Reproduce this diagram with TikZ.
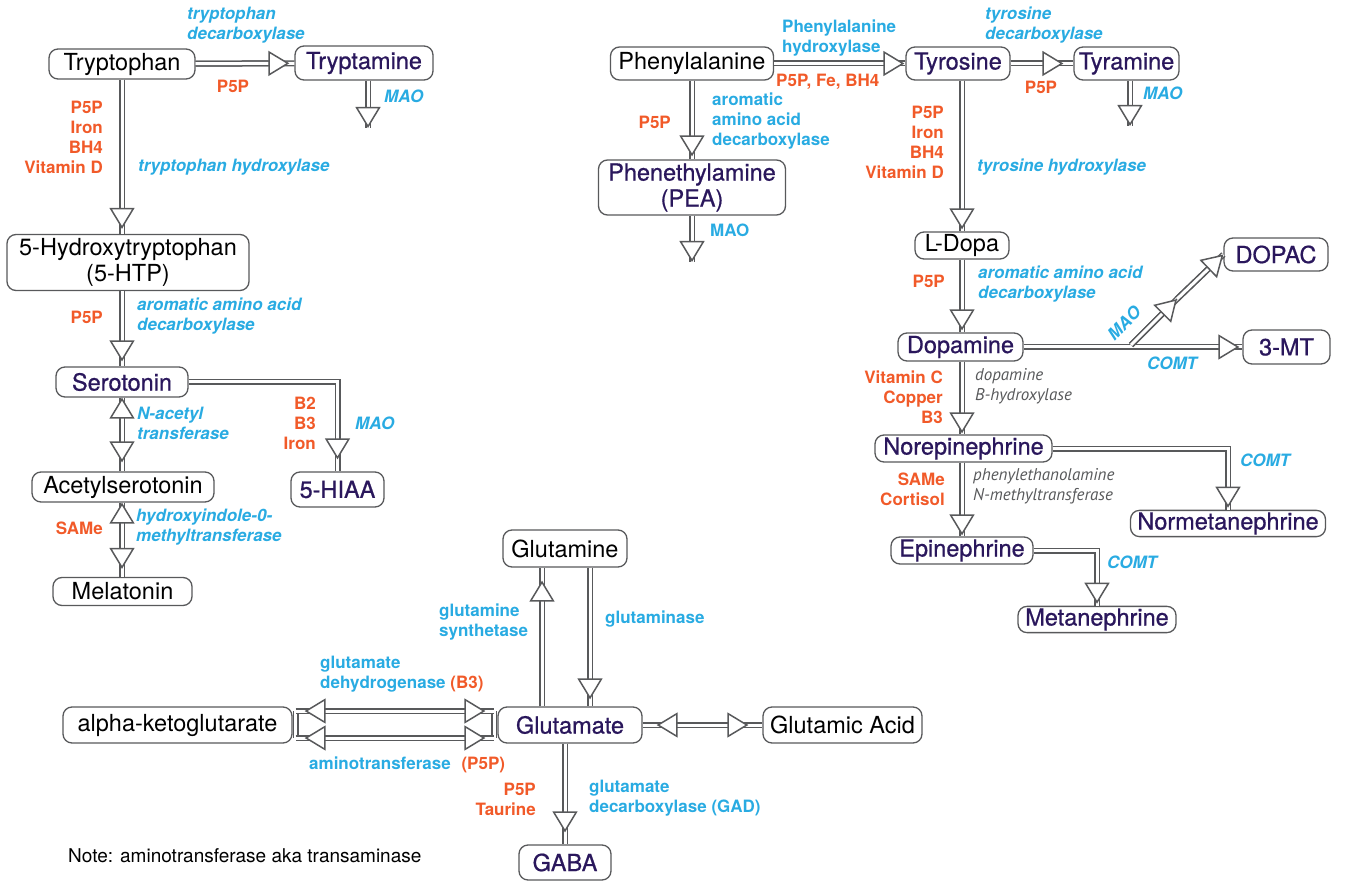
\documentclass[tikz,border=0pt]{standalone}
\usepackage{fontspec}
\setmainfont{TeX Gyre Heros}
\newfontfamily\molfont[FakeBold=0.7]{TeX Gyre Heros}
\newfontfamily\enzgrayfont{PT Sans}
\usetikzlibrary{arrows.meta}

\definecolor{linegray}{HTML}{58595B}
\definecolor{enzblue}{HTML}{29ABE2}
\definecolor{cofred}{HTML}{F15A29}
\definecolor{molpurple}{HTML}{2A175C}

\newcommand{\molsize}{\fontsize{23.5}{26}\selectfont}
\newcommand{\labsize}{\fontsize{17}{20}\selectfont}

\begin{document}
\begin{tikzpicture}[x=1pt,y=-1pt,
    pipe/.style={draw=linegray,line width=1.5pt,double=white,double distance=3pt},
    flow/.style={pipe,shorten >=6pt,-{Triangle[fill=white,line width=1.5pt,length=21pt,width=25pt]},
        preaction={pipe,-,shorten >=0pt,shorten <=0pt}},
    flowboth/.style={flow,{Triangle[fill=white,line width=1.5pt,length=21pt,width=25pt]}-{Triangle[fill=white,line width=1.5pt,length=21pt,width=25pt]}},
    mol/.style={text=molpurple,font=\molfont\molsize},
    enz/.style={text=enzblue,font=\labsize\bfseries\itshape,align=left,anchor=west},
    enzup/.style={text=enzblue,font=\labsize\bfseries,align=left,anchor=west},
    cof/.style={text=cofred,font=\labsize\bfseries,align=right,anchor=east},
    enzgray/.style={text=linegray,font=\enzgrayfont\fontsize{17}{19.5}\selectfont\itshape,align=left,anchor=west}]
\useasboundingbox (0,0) rectangle (1349,882);

\begin{scope}[every node/.style={draw=linegray,line width=1.3pt,rounded corners=9pt,
    fill=white,inner sep=2pt,font=\molsize,align=center,minimum height=30pt}]
    % serotonin side
    \node[minimum width=146pt] (trp) at (122,64) {Tryptophan};
    \node[mol,minimum width=138pt,minimum height=34pt] (tra) at (364,63) {Tryptamine};
    \node[minimum width=242pt,minimum height=56pt] (htp) at (128,262.5) {5-Hydroxytryptophan\\(5-HTP)};
    \node[mol,minimum width=132pt] (ser) at (122,382) {Serotonin};
    \node[mol,minimum width=93pt,minimum height=35pt] (hiaa) at (337.5,489.5) {5-HIAA};
    \node[minimum width=182pt] (acs) at (123,487) {Acetylserotonin};
    \node[minimum width=139pt,minimum height=28pt] (mel) at (122.5,591.5) {Melatonin};
    % phenylalanine side
    \node[minimum width=163pt,minimum height=33pt] (phe) at (692,63.5) {Phenylalanine};
    \node[mol,minimum width=104pt,minimum height=33pt] (tyr) at (958,63.5) {Tyrosine};
    \node[mol,minimum width=105pt,minimum height=33pt] (tyra) at (1126.5,63.5) {Tyramine};
    \node[mol,minimum width=187pt,minimum height=55pt] (pea) at (692,187.5) {Phenethylamine\\(PEA)};
    \node[minimum width=94pt,minimum height=27pt] (dopa) at (962,245.5) {L-Dopa};
    \node[mol,minimum width=104pt,minimum height=33pt] (dopac) at (1276,254.5) {DOPAC};
    \node[mol,minimum width=125pt,minimum height=28pt] (dop) at (960.5,347) {Dopamine};
    \node[mol,minimum width=87pt,minimum height=34pt] (mt) at (1286.5,347) {3-MT};
    \node[mol,minimum width=177pt,minimum height=27pt] (nor) at (963.5,448.5) {Norepinephrine};
    \node[mol,minimum width=195pt,minimum height=25pt] (nmn) at (1228,523.5) {Normetanephrine};
    \node[mol,minimum width=142pt,minimum height=27pt] (epi) at (962,550.5) {Epinephrine};
    \node[mol,minimum width=158pt,minimum height=25pt] (met) at (1097,619.5) {Metanephrine};
    % glutamate
    \node[minimum width=124pt,minimum height=37pt] (gln) at (565,548.5) {Glutamine};
    \node[minimum width=229pt,minimum height=36pt] (akg) at (177.5,725) {alpha-ketoglutarate};
    \node[mol,minimum width=144pt,minimum height=36pt] (glu) at (570,725) {Glutamate};
    \node[minimum width=159pt,minimum height=36pt] (gla) at (842.5,725) {Glutamic Acid};
    \node[mol,minimum width=92pt,minimum height=35pt] (gaba) at (565,862.5) {GABA};
\end{scope}

\begin{scope}
    % tryptophan
    \draw[flow,shorten >=5pt] (trp) -- (tra);
    \coordinate (traout) at (368,128);
    \draw[flow,shorten >=0pt] (tra.south -| traout) -- (traout);
    \draw[flow,shorten >=5pt] (trp) -- (trp |- htp.north);
    \draw[flow,shorten >=5pt] (htp.south -| trp) -- (trp |- ser.north);
    \draw[flowboth,shorten >=9pt] (ser) -- (ser |- acs.north);
    \draw[flowboth,shorten >=8pt] (acs.south -| ser) -- (ser |- mel.north);
    \draw[flow,shorten >=12pt] (ser.east) -| (hiaa.north);
    % phenylalanine
    \draw[flow,shorten >=1pt] (phe) -- (tyr);
    \draw[flow,shorten >=10pt] (tyr) -- (tyra);
    \coordinate (tyraout) at (1130,126);
    \draw[flow,shorten >=0pt] (tyra.south -| tyraout) -- (tyraout);
    \draw[flow,shorten >=3pt] (phe) -- (pea);
    \coordinate (peaout) at (692,262);
    \draw[flow,shorten >=0pt] (pea) -- (peaout);
    \draw[flow,shorten >=2pt] (tyr.south -| dopa) -- (dopa);
    \draw[flow,shorten >=2pt] (dopa) -- (dopa |- dop.north);
    \draw[flow,shorten >=3pt] (dop) -- (mt);
    \coordinate (dopfork) at (1131,345);
    \coordinate (dopmid) at (1177,299);
    \draw[flow,shorten >=0pt] (dopfork) -- (dopmid);
    \draw[flow,shorten >=0pt] (dopmid) -- (dopac.west);
    \draw[flow,shorten >=1pt] (dopa |- dop.south) -- (dopa |- nor.north);
    \draw[flow,shorten >=2pt] (nor.east) -| (nmn.north);
    \draw[flow,shorten >=1pt] (dopa |- nor.south) -- (dopa |- epi.north);
    \draw[flow,shorten >=2pt] (epi.east) -| (met.north);
    % glutamate
    \draw[flow,shorten >=13pt] ([xshift=-23pt]gln.south |- glu.north) -- ([xshift=-23pt]gln.south);
    \draw[flow,shorten >=7pt] ([xshift=25pt]gln.south) -- ([xshift=25pt]gln.south |- glu.north);
    \draw[pipe] ([xshift=3pt,yshift=14pt]akg.east) -- ([xshift=3pt,yshift=-13pt]akg.east);
    \draw[pipe] ([xshift=-3pt,yshift=14pt]glu.west) -- ([xshift=-3pt,yshift=-13pt]glu.west);
    \draw[flowboth,shorten <=9pt,shorten >=9pt] ([xshift=3pt,yshift=14pt]akg.east) -- ([xshift=-3pt,yshift=14pt]glu.west);
    \draw[flowboth,shorten <=9pt,shorten >=9pt] ([xshift=3pt,yshift=-13pt]akg.east) -- ([xshift=-3pt,yshift=-13pt]glu.west);
    \draw[flowboth,shorten <=14pt,shorten >=14pt] (glu) -- (gla);
    \draw[flow,shorten >=12pt] (glu.south -| gaba) -- (gaba);
\end{scope}

\begin{scope}[every node/.style={inner sep=0pt}]
    % serotonin side labels
    \node[enz] at (187,25) {tryptophan\\decarboxylase};
    \node[cof,anchor=center] at (233,86) {P5P};
    \node[enz] at (384,96) {MAO};
    \node[cof] at (103,137) {P5P\\Iron\\BH4\\Vitamin D};
    \node[enz] at (138,167) {tryptophan hydroxylase};
    \node[cof] at (103,317) {P5P};
    \node[enz] at (137,316) {aromatic amino acid\\decarboxylase};
    \node[enz] at (137,423) {N-acetyl\\transferase};
    \node[cof] at (316,423) {B2\\B3\\Iron};
    \node[enz] at (355,423) {MAO};
    \node[cof] at (103,528) {SAMe};
    \node[enz] at (136,527) {hydroxyindole-0-\\methyltransferase};
    % phenylalanine side labels
    \node[enzup] at (782,38) {Phenylalanine\\hydroxylase};
    \node[cof,anchor=west] at (776,82) {P5P, Fe, BH4};
    \node[enz] at (985,25) {tyrosine\\decarboxylase};
    \node[cof,anchor=center] at (1041,87) {P5P};
    \node[enz] at (1143,93) {MAO};
    \node[cof] at (671,122) {P5P};
    \node[enzup] at (712,121) {aromatic\\amino acid\\decarboxylase};
    \node[enzup] at (710,230) {MAO};
    \node[cof] at (944,142) {P5P\\Iron\\BH4\\Vitamin D};
    \node[enz] at (977,167) {tyrosine hydroxylase};
    \node[cof] at (945,281) {P5P};
    \node[enz] at (978,284) {aromatic amino acid\\decarboxylase};
    \node[enz,rotate=45,anchor=center] at (1124,323) {MAO};
    \node[enz] at (1147,363) {COMT};
    \node[cof] at (943,397) {Vitamin C\\Copper\\B3};
    \node[enzgray] at (975,386) {dopamine\\B-hydroxylase};
    \node[enz] at (1240,460) {COMT};
    \node[cof] at (945,489) {SAMe\\Cortisol};
    \node[enzgray] at (973,486) {phenylethanolamine\\N-methyltransferase};
    \node[enz] at (1107,562) {COMT};
    % glutamate labels
    \node[enzup] at (439,622) {glutamine\\synthetase};
    \node[enzup] at (605,619) {glutaminase};
    \node[enzup] at (320,674) {glutamate\\dehydrogenase {\color{cofred}(B3)}};
    \node[enzup] at (309,765) {aminotransferase\hspace{6pt} {\color{cofred}(P5P)}};
    \node[cof] at (536,799) {P5P\\Taurine};
    \node[enzup] at (589,798) {glutamate\\decarboxylase (GAD)};
    \node[anchor=west,font=\fontsize{19}{22}\selectfont] at (68,856) {Note: aminotransferase aka transaminase};
\end{scope}
\end{tikzpicture}
\end{document}
